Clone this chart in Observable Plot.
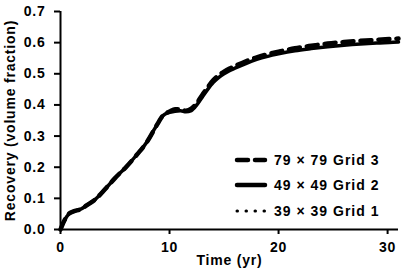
<!DOCTYPE html>
<html>
<head>
<meta charset="utf-8">
<script src="https://cdn.jsdelivr.net/npm/d3@7"></script>
<script src="https://cdn.jsdelivr.net/npm/@observablehq/plot@0.6"></script>
<style>
  html, body { margin: 0; padding: 0; background: #fff; }
  #wrap { position: relative; width: 415px; height: 271px; }
  #wrap svg text { letter-spacing: 0.8px; }
  #legend { position: absolute; left: 234px; top: 147px; font-family: "Liberation Sans", Arial, sans-serif; font-weight: bold; font-size: 14px; letter-spacing: 1px; color: #000; }
  #legend .row { height: 25.5px; display: flex; align-items: center; }
  #legend svg { width: 34px; height: 12px; margin-right: 6px; }
</style>
</head>
<body>
<div id="wrap"></div>
<script>
// ---- data ----
const seriesNames = ["79 × 79 Grid 3", "49 × 49 Grid 2", "39 × 39 Grid 1"];
const time = [0, 0.3, 0.76, 1.2, 1.83, 2.5, 3.2, 4.1, 5.0, 6.0, 7.0, 8.0, 8.5, 9.0, 9.3, 9.6, 10.0, 10.5, 11.0, 11.5, 12.0, 12.5, 13.0, 13.5, 14.0, 14.5, 15.0, 15.5, 16.0, 17.0, 18.0, 19.0, 20.0, 21.5, 23.0, 24.5, 26.0, 27.5, 29.0, 30.5, 31.0];
const grid2 = [0, 0.025, 0.05, 0.058, 0.065, 0.08, 0.097, 0.13, 0.165, 0.20, 0.24, 0.285, 0.315, 0.345, 0.362, 0.371, 0.376, 0.380, 0.381, 0.378, 0.382, 0.400, 0.425, 0.450, 0.472, 0.488, 0.500, 0.510, 0.518, 0.533, 0.546, 0.556, 0.564, 0.574, 0.581, 0.587, 0.592, 0.596, 0.599, 0.601, 0.602];
const grid3 = [0, 0.025, 0.05, 0.058, 0.065, 0.08, 0.097, 0.13, 0.165, 0.20, 0.24, 0.285, 0.315, 0.345, 0.362, 0.372, 0.379, 0.386, 0.386, 0.381, 0.388, 0.406, 0.432, 0.457, 0.479, 0.495, 0.507, 0.517, 0.525, 0.540, 0.553, 0.563, 0.571, 0.582, 0.590, 0.597, 0.602, 0.606, 0.609, 0.612, 0.613];
const grid1 = [0, 0.025, 0.05, 0.058, 0.065, 0.08, 0.097, 0.13, 0.165, 0.20, 0.24, 0.285, 0.315, 0.345, 0.362, 0.371, 0.378, 0.384, 0.384, 0.380, 0.385, 0.403, 0.428, 0.453, 0.475, 0.491, 0.503, 0.513, 0.521, 0.536, 0.549, 0.559, 0.567, 0.577, 0.585, 0.591, 0.596, 0.600, 0.603, 0.606, 0.607];
const xTicks = [0, 10, 20, 30];
const yTicks = [0, 0.1, 0.2, 0.3, 0.4, 0.5, 0.6, 0.7];
const xLabel = "Time (yr)";
const yLabel = "Recovery (volume fraction)";

const rows = (vals) => time.map((t, i) => ({t, v: vals[i]}));

const chart = Plot.plot({
  width: 415,
  height: 271,
  marginLeft: 60,
  marginRight: 17,
  marginTop: 11,
  marginBottom: 42,
  style: {fontFamily: "'Liberation Sans', Arial, sans-serif", fontWeight: "bold", fontSize: "14px", color: "#000", background: "#fff"},
  x: {domain: [0, 31]},
  y: {domain: [0, 0.7]},
  marks: [
    Plot.axisX({ticks: xTicks, tickSize: 5, tickPadding: 8, strokeWidth: 2, label: xLabel, labelAnchor: "center", labelArrow: "none", labelOffset: 35}),
    Plot.axisY({ticks: yTicks, tickFormat: d3.format(".1f"), tickSize: 6, tickPadding: 9, strokeWidth: 2, label: yLabel, labelAnchor: "center", labelArrow: "none", labelOffset: 55}),
    Plot.ruleX([0], {strokeWidth: 2}),
    Plot.ruleY([0], {strokeWidth: 2}),
    Plot.line(rows(grid1), {x: "t", y: "v", stroke: "#000", strokeWidth: 3, strokeDasharray: "0.5,8.5", strokeLinecap: "round", curve: "monotone-x"}),
    Plot.line(rows(grid2), {x: "t", y: "v", stroke: "#000", strokeWidth: 3.5, curve: "monotone-x"}),
    Plot.line(rows(grid3), {x: "t", y: "v", stroke: "#000", strokeWidth: 4.5, strokeDasharray: "11,7", strokeLinecap: "round", curve: "monotone-x"})
  ]
});

const wrap = document.getElementById("wrap");
wrap.appendChild(chart);

// legend overlay
const legendStyles = [
  {w: 4.5, dash: "11,7", cap: "round"},
  {w: 4.5, dash: null, cap: "round"},
  {w: 3, dash: "0.5,8.5", cap: "round"}
];
const legend = document.createElement("div");
legend.id = "legend";
seriesNames.forEach((name, i) => {
  const row = document.createElement("div");
  row.className = "row";
  const s = legendStyles[i];
  row.innerHTML = `<svg viewBox="0 0 34 12"><line x1="3" y1="6" x2="31" y2="6" stroke="#000" stroke-width="${s.w}" stroke-linecap="${s.cap}" ${s.dash ? `stroke-dasharray="${s.dash}"` : ""}/></svg><span>${name}</span>`;
  legend.appendChild(row);
});
wrap.appendChild(legend);
</script>
</body>
</html>
